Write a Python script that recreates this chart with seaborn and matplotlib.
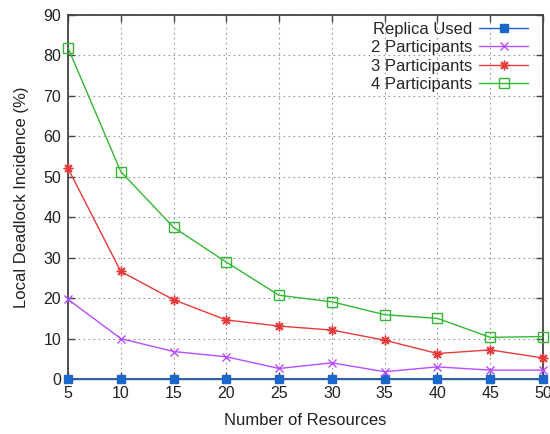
import numpy as np
import pandas as pd
import matplotlib
matplotlib.use("Agg")
import matplotlib.pyplot as plt
import seaborn as sns

resources = [5, 10, 15, 20, 25, 30, 35, 40, 45, 50]
replica_used = [0, 0, 0, 0, 0, 0, 0, 0, 0, 0]
two_participants = [19.7, 10.0, 6.8, 5.5, 2.6, 4.0, 1.8, 3.0, 2.2, 2.2]
three_participants = [52.1, 26.6, 19.6, 14.6, 13.1, 12.1, 9.6, 6.3, 7.2, 5.2]
four_participants = [81.9, 51.3, 37.5, 28.9, 20.7, 19.1, 15.9, 15.0, 10.3, 10.5]

series_names = ["Replica Used", "2 Participants", "3 Participants", "4 Participants"]
series_values = [replica_used, two_participants, three_participants, four_participants]

sns.set_style("white")
plt.rcParams['font.family'] = ['Liberation Sans', 'DejaVu Sans']

fig = plt.figure(figsize=(5.5, 4.34), dpi=100)
ax = fig.add_axes([0.1236, 0.1267, 0.8636, 0.8387])

styles = {
    "Replica Used": dict(color="#1a66cc", marker="s", ms=5.5, mfc="#1a66cc", mec="#1a66cc", mew=1),
    "2 Participants": dict(color="#b84dff", marker="x", ms=6, mfc="none", mec="#b84dff", mew=1),
    "3 Participants": dict(color="#e83a3a", marker=(8, 2, 0), ms=7, mfc="none", mec="#e83a3a", mew=1),
    "4 Participants": dict(color="#33b833", marker="s", ms=6.5, mfc="none", mec="#33b833", mew=1),
}

for name, vals in zip(series_names, series_values):
    df = pd.DataFrame({"x": resources, "y": vals})
    st = styles[name]
    sns.lineplot(data=df, x="x", y="y", ax=ax, label=name, color=st["color"],
                 marker=st["marker"], markersize=st["ms"], markerfacecolor=st["mfc"],
                 markeredgecolor=st["mec"], markeredgewidth=st["mew"], linewidth=1.0,
                 clip_on=False, zorder=3)

ax.set_xlim(5, 50)
ax.set_ylim(0, 90)
ax.set_xticks(resources)
ax.set_yticks(np.arange(0, 91, 10))
ax.grid(True, linestyle=(0, (1.5, 3)), color="#999999", linewidth=0.8)
ax.set_axisbelow(True)
for sp in ax.spines.values():
    sp.set_visible(True)
    sp.set_color("#444444")
    sp.set_linewidth(1.3)
ax.tick_params(direction="in", length=5, width=1.0, colors="#444444", labelcolor="#222222",
               labelsize=11.5, top=True, right=True, bottom=True, left=True, pad=5)
ax.set_xlabel("Number of Resources", fontsize=12, color="#222222", labelpad=9)
ax.set_ylabel("Local Deadlock Incidence (%)", fontsize=12, color="#222222", labelpad=10)

leg = ax.legend(loc="upper right", bbox_to_anchor=(0.975, 0.99), markerfirst=False,
                frameon=False, fontsize=12, handlelength=2.9, labelspacing=0.2,
                borderaxespad=0.0, borderpad=0.2, handletextpad=0.45)

fig.savefig("out.png", dpi=100)
